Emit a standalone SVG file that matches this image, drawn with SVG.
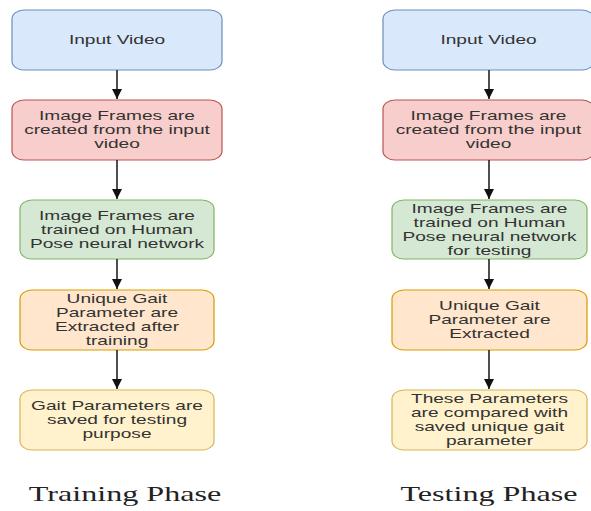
<svg xmlns="http://www.w3.org/2000/svg" width="591" height="511" viewBox="0 0 591 511">
<style>
.box{stroke-width:1.2}
.blue{fill:#dae8fc;stroke:#6c8ebf}
.red{fill:#f8cecc;stroke:#b85450}
.green{fill:#d5e8d4;stroke:#82b366}
.orange{fill:#ffe6cc;stroke:#d79b00}
.yellow{fill:#fff2cc;stroke:#d6b656}
.t{font-family:"Liberation Sans",Arial,sans-serif;font-size:13px;fill:#333;text-anchor:middle}
.ph{font-family:"Liberation Serif","Times New Roman",serif;font-size:21px;fill:#222;text-anchor:middle}
.conn line{stroke:#222;stroke-width:1.6}
</style>
<defs>
<marker id="ah" viewBox="0 0 10 10" refX="10" refY="5" markerWidth="10" markerHeight="10" markerUnits="userSpaceOnUse" orient="auto">
<path d="M0,0 L10,5 L0,10 Z" fill="#111"/>
</marker>
</defs>
<rect width="591" height="511" fill="#fff"/>

<g id="t-input">
<rect class="box blue" x="12" y="10" width="210" height="60" rx="12" ry="9"/>
<g transform="translate(117 0) scale(1.47 1)"><text class="t" x="0" y="44.5">Input Video</text></g>
</g>
<g id="t-frames">
<rect class="box red" x="12" y="100" width="210" height="60" rx="12" ry="9"/>
<g transform="translate(117 0) scale(1.47 1)">
<text class="t" x="0" y="120.5">Image Frames are</text>
<text class="t" x="0" y="134.5">created from the input</text>
<text class="t" x="0" y="148.5">video</text>
</g>
</g>
<g id="t-trained">
<rect class="box green" x="20" y="200" width="194" height="59" rx="12" ry="9"/>
<g transform="translate(117 0) scale(1.47 1)">
<text class="t" x="0" y="220">Image Frames are</text>
<text class="t" x="0" y="234">trained on Human</text>
<text class="t" x="0" y="248">Pose neural network</text>
</g>
</g>
<g id="t-unique">
<rect class="box orange" x="20" y="290" width="194" height="60" rx="12" ry="9"/>
<g transform="translate(117 0) scale(1.47 1)">
<text class="t" x="0" y="303.5">Unique Gait</text>
<text class="t" x="0" y="317.5">Parameter are</text>
<text class="t" x="0" y="331.5">Extracted after</text>
<text class="t" x="0" y="345.5">training</text>
</g>
</g>
<g id="t-saved">
<rect class="box yellow" x="20" y="390" width="194" height="60" rx="12" ry="9"/>
<g transform="translate(117 0) scale(1.47 1)">
<text class="t" x="0" y="410.5">Gait Parameters are</text>
<text class="t" x="0" y="424.5">saved for testing</text>
<text class="t" x="0" y="438.5">purpose</text>
</g>
</g>

<g id="s-input">
<rect class="box blue" x="383" y="10" width="211" height="60" rx="12" ry="9"/>
<g transform="translate(488.5 0) scale(1.47 1)"><text class="t" x="0" y="44.5">Input Video</text></g>
</g>
<g id="s-frames">
<rect class="box red" x="383" y="100" width="211" height="60" rx="12" ry="9"/>
<g transform="translate(488.5 0) scale(1.47 1)">
<text class="t" x="0" y="120.5">Image Frames are</text>
<text class="t" x="0" y="134.5">created from the input</text>
<text class="t" x="0" y="148.5">video</text>
</g>
</g>
<g id="s-trained">
<rect class="box green" x="392" y="200" width="195" height="59" rx="12" ry="9"/>
<g transform="translate(489.5 0) scale(1.47 1)">
<text class="t" x="0" y="213.5">Image Frames are</text>
<text class="t" x="0" y="227.5">trained on Human</text>
<text class="t" x="0" y="241.5">Pose neural network</text>
<text class="t" x="0" y="255.5">for testing</text>
</g>
</g>
<g id="s-unique">
<rect class="box orange" x="392" y="290" width="195" height="60" rx="12" ry="9"/>
<g transform="translate(489.5 0) scale(1.47 1)">
<text class="t" x="0" y="310.5">Unique Gait</text>
<text class="t" x="0" y="324.5">Parameter are</text>
<text class="t" x="0" y="338.5">Extracted</text>
</g>
</g>
<g id="s-compare">
<rect class="box yellow" x="392" y="390" width="195" height="60" rx="12" ry="9"/>
<g transform="translate(489.5 0) scale(1.47 1)">
<text class="t" x="0" y="403.5">These Parameters</text>
<text class="t" x="0" y="417.5">are compared with</text>
<text class="t" x="0" y="431.5">saved unique gait</text>
<text class="t" x="0" y="445.5">parameter</text>
</g>
</g>

<g class="conn">
<line x1="117" y1="70" x2="117" y2="99" marker-end="url(#ah)"/>
<line x1="117" y1="160" x2="117" y2="199" marker-end="url(#ah)"/>
<line x1="117" y1="259" x2="117" y2="289" marker-end="url(#ah)"/>
<line x1="117" y1="350" x2="117" y2="389" marker-end="url(#ah)"/>
<line x1="489" y1="70" x2="489" y2="99" marker-end="url(#ah)"/>
<line x1="489" y1="160" x2="489" y2="199" marker-end="url(#ah)"/>
<line x1="489" y1="259" x2="489" y2="289" marker-end="url(#ah)"/>
<line x1="489" y1="350" x2="489" y2="389" marker-end="url(#ah)"/>
</g>

<g id="lbl-training" transform="translate(125 0) scale(1.53 1)"><text class="ph" x="0" y="501">Training Phase</text></g>
<g id="lbl-testing" transform="translate(489 0) scale(1.53 1)"><text class="ph" x="0" y="501">Testing Phase</text></g>
</svg>
